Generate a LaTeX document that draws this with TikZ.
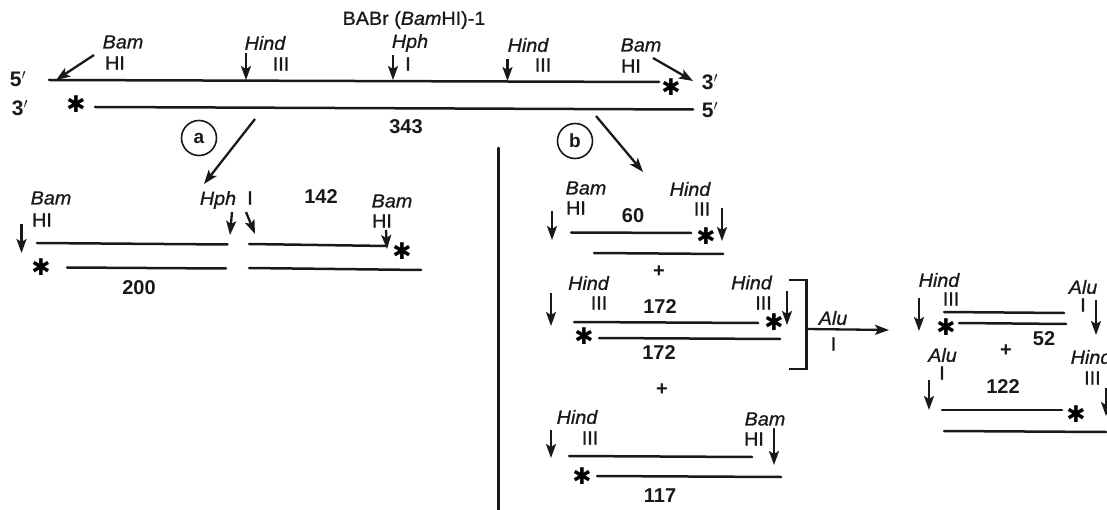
\documentclass[tikz,border=0pt]{standalone}
\usepackage{fontspec}
\setmainfont{Liberation Sans}
\newfontfamily\medf{Liberation Sans}[FakeBold=0.9,FakeStretch=1.04,ItalicFeatures={FakeBold=0.9,FakeStretch=1.04}]
\newfontfamily\symfont{DejaVu Sans}
\usetikzlibrary{arrows.meta}
\tikzset{
  strand/.style={line width=2.5pt,line cap=round,black!90},
  cut/.style={line width=2.3pt,black!90,-{Stealth[length=14pt,width=10pt,inset=3pt]}},
  lab/.style={inner sep=0pt,font=\fontsize{19}{19}\selectfont\medf,text=black!90},
  enz/.style={lab,font=\fontsize{19}{19}\selectfont\medf\itshape},
  num/.style={lab,font=\fontsize{20}{20}\selectfont\bfseries},
  mark5/.style={lab,font=\fontsize{21}{21}\selectfont\bfseries},
  starnode/.style={inner sep=0pt,font=\fontsize{23}{23}\selectfont\symfont\bfseries,text=black},
  ring/.style={draw,circle,line width=1.6pt,minimum size=35pt,inner sep=0pt,font=\fontsize{19}{19}\selectfont\bfseries,black!90},
}
\newcommand\Seg[3]{\coordinate (#1a) at (#2); \coordinate (#1b) at (#3); \draw[strand] (#1a) -- (#1b);}
\newcommand\Cut[3]{\coordinate (#1a) at (#2); \coordinate (#1b) at (#3); \draw[cut] (#1a) -- (#1b);}
\newcommand\Txt[4]{\node[#1] (#2) at (#3) {#4};}
\newcommand\Star[2]{\node[starnode] (#1) at (#2) {✱};}
\begin{document}
\begin{tikzpicture}[x=1pt,y=-1pt]
\useasboundingbox (0,0) rectangle (1107,510);
\clip (0,0) rectangle (1107,510);
% top duplex
\Txt{lab}{title}{414,20}{BABr (\textit{Bam}HI)-1}
\Txt{mark5}{fiveL}{18,79}{5$'$}
\Txt{mark5}{threeL}{20,108}{3$'$}
\Txt{mark5}{threeR}{710,82}{3$'$}
\Txt{mark5}{fiveR}{710,110}{5$'$}
\Seg{topA}{49,80}{659,82}
\Seg{topB}{95,107}{693,109.5}
\Star{sTL}{76,104}
\Star{sTR}{671,87}
\Txt{enz}{t1}{123,42}{Bam}\Txt{lab}{t1b}{115,63}{HI}
\Txt{enz}{t2}{265,43}{Hind}\Txt{lab}{t2b}{281,64}{III}
\Txt{enz}{t3}{410,43}{Hph}\Txt{lab}{t3b}{408,64}{I}
\Txt{enz}{t4}{528,45}{Hind}\Txt{lab}{t4b}{543,65}{III}
\Txt{enz}{t5}{641,45}{Bam}\Txt{lab}{t5b}{631,66}{HI}
\Cut{c1}{94,55}{56,80}
\Cut{c2}{246,53}{246,80}
\Cut{c3}{393,55}{393,80}
\Cut{c4}{507.5,59}{507.5,81}
\Cut{c5}{653,58}{693,81}
\Txt{num}{n343}{406,127}{343}
\node[ring] (ra) at (199,138) {a};
\node[ring] (rb) at (575,141) {b};
\Cut{ca}{255,119}{204,184}
\Cut{cb}{596,116}{643,172}
\Seg{div}{498.5,148}{498.5,510}
% branch a
\Txt{enz}{a1}{51,198}{Bam}\Txt{lab}{a1b}{42,220}{HI}
\Cut{a1c}{21.5,224}{21.5,253}
\Seg{a1s}{37,243}{227.5,244.5}
\Seg{a1t}{67,267.5}{226,268.5}
\Star{sa1}{41,267}
\Txt{num}{n200}{139,288}{200}
\Txt{enz}{a2}{218,200}{Hph}\Txt{lab}{a2b}{250,198}{I}
\Cut{a2c}{232,212}{230,235}
\Cut{a3c}{246,212}{255,234}
\Txt{num}{n142}{321,197}{142}
\Txt{enz}{a4}{392,201}{Bam}\Txt{lab}{a4b}{382,221}{HI}
\Cut{a4c}{386,230}{387,249}
\Seg{a2s}{249,244}{387,246}
\Seg{a2t}{249,268}{421,270}
\Star{sa2}{402,251}
% branch b, 60
\Txt{enz}{b1}{586,188}{Bam}\Txt{lab}{b1b}{576,208}{HI}
\Cut{b1c}{552,211}{552,240}
\Seg{b1s}{571,232.5}{691,233}
\Seg{b1t}{594,253}{723,254}
\Txt{num}{n60}{633,216}{60}
\Txt{enz}{b2}{690,189}{Hind}\Txt{lab}{b2b}{702,209}{III}
\Star{sb1}{706,236}
\Cut{b2c}{722,208}{722,241}
\Txt{num}{p1}{659,272}{+}
% 172
\Txt{enz}{c1t}{588.5,283}{Hind}\Txt{lab}{c1b}{599,303}{III}
\Cut{c1c}{551,293}{551,326}
\Txt{num}{n172a}{660,307}{172}
\Seg{c1s}{574,322}{758,323}
\Seg{c1u}{599,338}{780,339}
\Txt{enz}{c2t}{751.5,282.5}{Hind}\Txt{lab}{c2l}{763.5,303}{III}
\Star{sc1}{774,322}
\Star{sc2}{584,336}
\Cut{c2c}{787,291}{787,325}
\Txt{num}{n172b}{659,353}{172}
% bracket
\coordinate (bra) at (789,280);
\coordinate (brb) at (806.5,280);
\coordinate (brc) at (806.5,369);
\coordinate (brd) at (789,369);
\draw[strand,line cap=butt] (bra) -- (brb) -- (brc) -- (brd);
\Txt{enz}{alu}{833,318}{Alu}\Txt{lab}{alub}{833.5,344}{I}
\Cut{aluc}{806.5,329}{889,330}
\Txt{num}{p2}{662,390}{+}
% 117
\Txt{enz}{d1}{577,417}{Hind}\Txt{lab}{d1b}{590,438}{III}
\Cut{d1c}{551,430}{551,458}
\Seg{d1s}{569,456}{752,457}
\Txt{enz}{d2}{765,419}{Bam}\Txt{lab}{d2b}{754,439}{HI}
\Cut{d2c}{774,428}{774,465}
\Star{sd}{582,476}
\Seg{d1t}{597,476}{781,477}
\Txt{num}{n117}{660,496}{117}
% right
\Txt{enz}{e1}{939,280}{Hind}\Txt{lab}{e1b}{951,299}{III}
\Cut{e1c}{919,298}{919,331}
\Seg{e1s}{944,312}{1064,313}
\Star{se}{946,327}
\Seg{e1t}{959,323}{1066,324}
\Txt{num}{n52}{1044,339}{52}
\Txt{enz}{e2}{1083,287}{Alu}\Txt{lab}{e2b}{1083,305}{I}
\Cut{e2c}{1096,300}{1096,335}
\Txt{enz}{f1}{942.5,355}{Alu}\Txt{lab}{f1b}{942,373}{I}
\Cut{f1c}{929,380}{929,410}
\Txt{num}{p3}{1006,351}{+}
\Txt{num}{n122}{1003,387}{122}
\node[enz,anchor=west] (f2) at (1070.5,357) {Hind};
\node[lab,anchor=west] (f2b) at (1084,378) {III};
\Cut{f2c}{1106,388}{1106,416}
\Seg{f1s}{942,410}{1062,410}
\Star{sf}{1076,414}
\Seg{f1t}{944,431}{1106,432}
\end{tikzpicture}
\end{document}
